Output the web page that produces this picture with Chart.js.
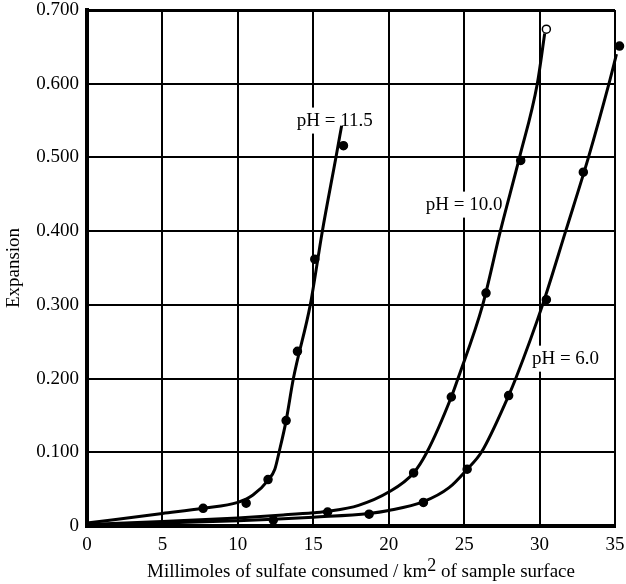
<!DOCTYPE html>
<html>
<head>
<meta charset="utf-8">
<script src="https://cdn.jsdelivr.net/npm/chart.js@4/dist/chart.umd.min.js"></script>
<style>
  html, body { margin: 0; padding: 0; background: #fff; }
</style>
</head>
<body>
<canvas id="expansionChart" width="626" height="584"></canvas>
<script>
// measured points, one pair of arrays per pH
var ph115X = [7.7, 10.55, 12.0, 13.2, 13.95, 15.1, 17.0];
var ph115Y = [0.024, 0.031, 0.063, 0.143, 0.237, 0.362, 0.516];
var ph100X = [15.95, 21.65, 24.15, 26.45, 28.75, 30.45];
var ph100Y = [0.019, 0.072, 0.175, 0.316, 0.496, 0.674];
var ph60X = [12.35, 18.7, 22.3, 25.2, 27.95, 30.45, 32.9, 35.3];
var ph60Y = [0.008, 0.016, 0.032, 0.077, 0.177, 0.307, 0.480, 0.651];

// smoothed curves drawn through each set
var fit115X = [0, 5, 7.7, 10, 11, 12, 12.45, 12.73, 13.2, 13.68, 14.8, 15.6, 16.5, 16.88];
var fit115Y = [0.004, 0.017, 0.024, 0.032, 0.042, 0.062, 0.077, 0.1, 0.143, 0.2, 0.3, 0.4, 0.5, 0.543];
var fit100X = [0, 5, 10, 13, 15, 16, 18, 20, 21.65, 22.53, 24.15, 24.59, 26.23, 27.4, 28.67, 29.85, 30.34];
var fit100Y = [0.002, 0.006, 0.011, 0.015, 0.018, 0.020, 0.028, 0.046, 0.072, 0.1, 0.175, 0.2, 0.3, 0.4, 0.5, 0.6, 0.668];
var fit60X = [0, 5, 10, 12.35, 15, 18.7, 20, 22.3, 24, 25.2, 26.14, 27.95, 28.42, 30.2, 31.73, 33.24, 34.6, 35.1];
var fit60Y = [0.001, 0.004, 0.007, 0.009, 0.012, 0.017, 0.021, 0.033, 0.052, 0.077, 0.1, 0.177, 0.2, 0.3, 0.4, 0.5, 0.6, 0.64];

// curve labels
var labelText = ['pH = 11.5', 'pH = 10.0', 'pH = 6.0'];
var labelX = [16.43, 25.0, 31.72];
var labelY = [0.55, 0.436, 0.227];

// axis ticks
var xMin = 0, xMax = 35, xStep = 5;
var yMin = 0, yMax = 0.7, yStep = 0.1;

function toPoints(xs, ys) {
  return xs.map(function (x, i) { return { x: x, y: ys[i] }; });
}

var serif = '"Liberation Serif", "Times New Roman", serif';

function curve(xs, ys) {
  return {
    type: 'line',
    data: toPoints(xs, ys),
    borderColor: '#000',
    borderWidth: 3,
    pointRadius: 0,
    cubicInterpolationMode: 'monotone',
    fill: false,
    clip: false
  };
}

function dots(xs, ys, fills) {
  return {
    type: 'scatter',
    data: toPoints(xs, ys),
    pointRadius: 4,
    pointBackgroundColor: fills || '#000',
    pointBorderColor: '#000',
    pointBorderWidth: 1.5,
    clip: false
  };
}

// pH labels sit on white boxes over the grid, under the curves
var phLabels = {
  id: 'phLabels',
  beforeDatasetsDraw: function (chart) {
    var ctx = chart.ctx, xs = chart.scales.x, ys = chart.scales.y;
    ctx.save();
    ctx.font = '19px ' + serif;
    ctx.textAlign = 'center';
    ctx.textBaseline = 'middle';
    for (var i = 0; i < labelText.length; i++) {
      var px = xs.getPixelForValue(labelX[i]);
      var py = ys.getPixelForValue(labelY[i]);
      var w = ctx.measureText(labelText[i]).width;
      ctx.fillStyle = '#fff';
      ctx.fillRect(px - w / 2 - 3, py - 13, w + 6, 26);
      ctx.fillStyle = '#000';
      ctx.fillText(labelText[i], px, py);
    }
    ctx.restore();
  }
};

// x title needs a raised "2" after km
var xTitle = {
  id: 'xTitle',
  afterDraw: function (chart) {
    var ctx = chart.ctx, area = chart.chartArea;
    var partA = 'Millimoles of sulfate consumed / km';
    var sup = '2';
    var partB = ' of sample surface';
    ctx.save();
    ctx.fillStyle = '#000';
    ctx.textBaseline = 'alphabetic';
    ctx.textAlign = 'left';
    ctx.font = '19px ' + serif;
    var wA = ctx.measureText(partA).width;
    var wB = ctx.measureText(partB).width;
    ctx.font = '18px ' + serif;
    var wS = ctx.measureText(sup).width;
    var total = wA + wS + wB;
    var cx = (area.left + area.right) / 2 + 10;
    var x0 = cx - total / 2;
    var base = area.bottom + 51;
    ctx.font = '19px ' + serif;
    ctx.fillText(partA, x0, base);
    ctx.font = '18px ' + serif;
    ctx.fillText(sup, x0 + wA, base - 6);
    ctx.font = '19px ' + serif;
    ctx.fillText(partB, x0 + wA + wS, base);
    ctx.restore();
  }
};

var ctx = document.getElementById('expansionChart').getContext('2d');
var chart = new Chart(ctx, {
  type: 'scatter',
  data: {
    datasets: [
      curve(fit115X, fit115Y),
      curve(fit100X, fit100Y),
      curve(fit60X, fit60Y),
      dots(ph115X, ph115Y),
      dots(ph100X, ph100Y, ['#000', '#000', '#000', '#000', '#000', '#fff']),
      dots(ph60X, ph60Y)
    ]
  },
  options: {
    responsive: false,
    animation: false,
    layout: { padding: { top: 10, right: 11, left: 0, bottom: 0 } },
    plugins: {
      legend: { display: false },
      tooltip: { enabled: false }
    },
    scales: {
      x: {
        type: 'linear',
        min: xMin,
        max: xMax,
        afterFit: function (scale) {
          scale.height = 58;
          scale.paddingLeft = 0;
          scale.paddingRight = 0;
        },
        ticks: {
          stepSize: xStep,
          color: '#000',
          padding: 8,
          font: { family: serif, size: 19 },
          callback: function (v) { return String(v); }
        },
        grid: { color: '#000', lineWidth: 2, drawTicks: false },
        border: { color: '#000', width: 4 }
      },
      y: {
        type: 'linear',
        min: yMin,
        max: yMax,
        afterFit: function (scale) {
          scale.width = 87;
          scale.paddingTop = 0;
          scale.paddingBottom = 0;
        },
        ticks: {
          stepSize: yStep,
          color: '#000',
          padding: 8,
          font: { family: serif, size: 19 },
          callback: function (v) { return v === 0 ? '0' : v.toFixed(3); }
        },
        grid: {
          color: '#000',
          lineWidth: function (c) { return c.tick && Math.abs(c.tick.value - yMax) < 1e-9 ? 3 : 2; },
          drawTicks: false
        },
        border: { color: '#000', width: 4 },
        title: {
          display: true,
          text: 'Expansion',
          color: '#000',
          font: { family: serif, size: 19 },
          padding: { top: 3, bottom: 0 }
        }
      }
    }
  },
  plugins: [phLabels, xTitle]
});
</script>
</body>
</html>
